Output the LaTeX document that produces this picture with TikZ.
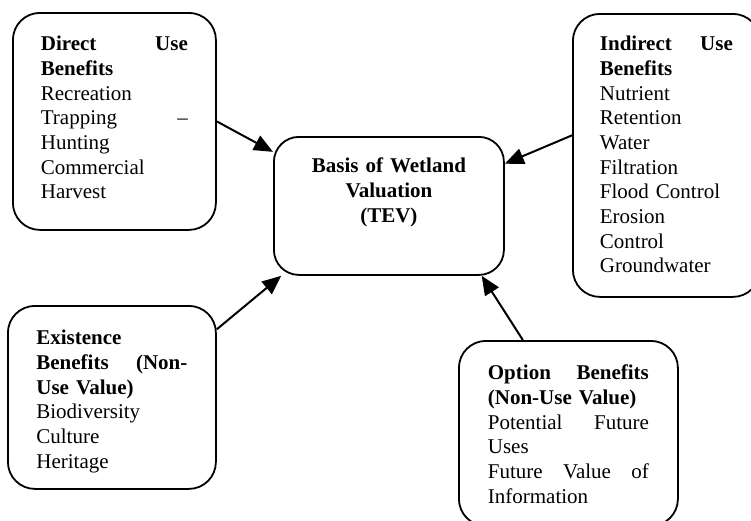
\documentclass[tikz,border=0pt]{standalone}
\usepackage{fontspec}
\setmainfont{Liberation Serif}
\usetikzlibrary{arrows.meta}

\begin{document}
\begin{tikzpicture}[x=1pt,y=-1pt,font=\fontsize{21}{24.67}\selectfont]

\tikzset{riquadro/.style={draw,line width=1.8pt,rounded corners=27pt,anchor=north west,align=left,inner ysep=0pt},
freccia/.style={line width=2pt,-{Triangle[length=19pt,width=16pt]}}}

\useasboundingbox (0,0) rectangle (751,520);

\node[riquadro,text width=147pt,inner xsep=28pt,text height=38pt,text depth=179pt] (diretto) at (12,12)
{\textbf{Direct\hfill Use}\\ \textbf{Benefits}\\ Recreation\\ Trapping\hfill –\\ Hunting\\ Commercial\\ Harvest};

\node[riquadro,text width=133pt,inner xsep=27pt,text height=37pt,text depth=246pt] (indiretto) at (572,13)
{\textbf{Indirect\hfill Use}\\ \textbf{Benefits}\\ Nutrient\\ Retention\\ Water\\ Filtration\\ Flood Control\\ Erosion\\ Control\\ Groundwater};

\node[riquadro,text width=151pt,inner xsep=28.5pt,text height=39pt,text depth=144pt] (esistenza) at (7,305)
{\textbf{Existence}\\ \textbf{Benefits\hfill (Non-}\\ \textbf{Use Value)}\\ Biodiversity\\ Culture\\ Heritage};

\node[riquadro,text width=161pt,inner xsep=29pt,text height=39pt,text depth=146pt] (opzione) at (458,340)
{\textbf{Option\hfill Benefits}\\ \textbf{(Non-Use Value)}\\ Potential\hfill Future\\ Uses\\ Future\hfill Value\hfill of\\ Information};

\node[riquadro,rounded corners=25pt,align=center,font=\fontsize{21}{24.67}\selectfont\bfseries,text width=230pt,inner xsep=0pt,text height=36pt,text depth=102pt] (tev) at (273,136)
{Basis of Wetland\\ Valuation\\ (TEV)};

\draw[freccia] (diretto.east) -- (tev.155);
\draw[freccia] (indiretto.168) -- (tev.20);
\draw[freccia] (esistenza.33) -- (tev.213);
\draw[freccia] (opzione.116) -- (tev.323);

\end{tikzpicture}
\end{document}
